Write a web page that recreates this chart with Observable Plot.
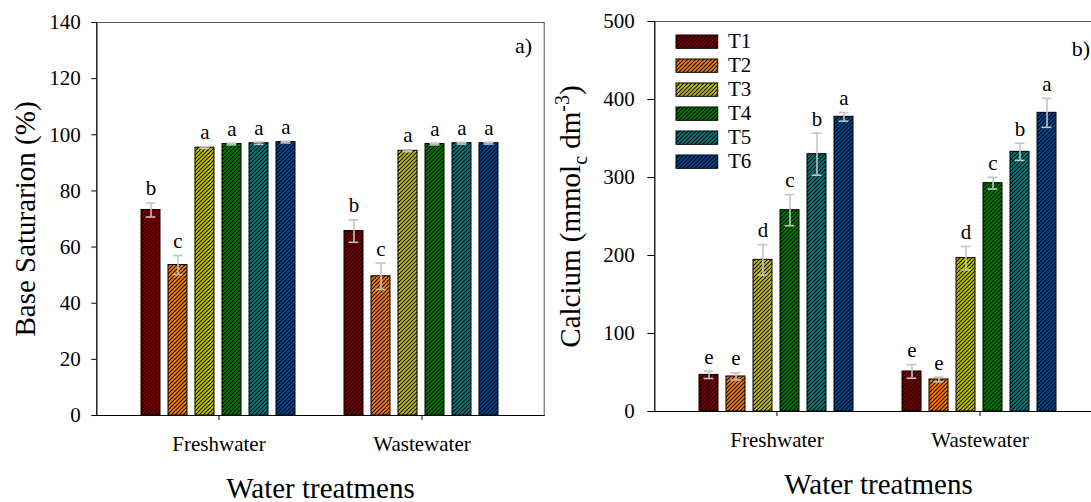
<!DOCTYPE html>
<html><head><meta charset="utf-8">
<script src="https://cdn.jsdelivr.net/npm/d3@7"></script>
<script src="https://cdn.jsdelivr.net/npm/@observablehq/plot@0.6"></script>
<style>
html,body{margin:0;padding:0;background:#fff;overflow:hidden;width:1091px;height:502px}
#wrap{position:relative;width:1091px;height:502px;overflow:hidden}
.panel{position:absolute;top:0;height:502px}
.panel svg{max-width:none !important}
#legend{position:absolute;left:676px;top:30px;overflow:visible}
</style></head><body>
<svg width="0" height="0" style="position:absolute"><defs>
<pattern id="hatch" patternUnits="userSpaceOnUse" width="4" height="4">
<path d="M-1,1 l2,-2 M0,4 l4,-4 M3,5 l2,-2" stroke="#000" stroke-width="1.05"/>
</pattern></defs></svg>
<div id="wrap">
<div id="a" class="panel" style="left:0;width:545px"></div>
<div id="b" class="panel" style="left:545px;width:560px"></div>
<svg id="legend" width="120" height="160"></svg>
</div>
<script>
const groups = ["Freshwater", "Wastewater"];
const treatments = ["T1", "T2", "T3", "T4", "T5", "T6"];
const colors = ["#820000", "#ff8000", "#c8c800", "#008000", "#008080", "#004a99"];

// Panel a) Base saturation (%)
const bsFresh = [73.2, 53.6, 95.4, 96.7, 97.0, 97.4];
const bsFreshErr = [2.5, 3.4, 0.3, 0.3, 0.4, 0.3];
const bsFreshLetters = ["b", "c", "a", "a", "a", "a"];
const bsWaste = [65.7, 49.6, 94.3, 96.7, 97.0, 97.0];
const bsWasteErr = [4.0, 4.7, 0.3, 0.3, 0.3, 0.3];
const bsWasteLetters = ["b", "c", "a", "a", "a", "a"];
const bsTicks = [0, 20, 40, 60, 80, 100, 120, 140];

// Panel b) Calcium (mmolc dm-3)
const caFresh = [47.0, 44.9, 194.4, 258.1, 329.9, 377.8];
const caFreshErr = [4.7, 4.5, 19.6, 19.9, 27.0, 5.6];
const caFreshLetters = ["e", "e", "d", "c", "b", "a"];
const caWaste = [51.3, 41.0, 196.6, 292.7, 332.9, 382.9];
const caWasteErr = [8.7, 3.0, 15.0, 7.5, 11.0, 18.6];
const caWasteLetters = ["e", "e", "d", "c", "b", "a"];
const caTicks = [0, 100, 200, 300, 400, 500];

const xTitle = "Water treatmens";
const caLabel = "Calcium (mmolc dm-3)";

function rows(fv, fe, fl, wv, we, wl) {
  const out = [];
  treatments.forEach((t, i) => out.push({group: groups[0], t, v: fv[i], e: fe[i], l: fl[i]}));
  treatments.forEach((t, i) => out.push({group: groups[1], t, v: wv[i], e: we[i], l: wl[i]}));
  return out;
}

const FONT = "'Liberation Serif', 'Times New Roman', serif";
const ERR = "#c4c4c4";
const FX_PI = 0.158, FX_PO = 0.18;

function panel(o) {
  const data = o.data;
  const plotW = o.width - o.ml - o.mr;
  const fxStep = plotW / (groups.length - FX_PI + 2 * FX_PO);
  const off = fxStep * FX_PO; // outer padding of the facet band: super-facet frame is inset by this
  return Plot.plot({
    width: o.width, height: 502,
    marginLeft: o.ml, marginRight: o.mr, marginTop: o.mt, marginBottom: o.mb,
    style: {fontFamily: FONT, fontSize: "21px", color: "#000", background: "transparent", overflow: "visible", maxWidth: "none"},
    fx: {domain: groups, paddingInner: FX_PI, paddingOuter: FX_PO, label: null},
    x: {domain: treatments, padding: 0.293, axis: null},
    y: {domain: o.yDomain, axis: null},
    color: {domain: treatments, range: colors},
    marks: [
      Plot.barY(data, {fx: "group", x: "t", y: "v", fill: "t"}),
      Plot.barY(data, {fx: "group", x: "t", y: "v", fill: "url(#hatch)", stroke: "#000", strokeWidth: 1}),
      Plot.ruleX(data, {fx: "group", x: "t", y1: d => d.v - d.e, y2: d => d.v + d.e, stroke: ERR, strokeWidth: 1.6}),
      Plot.tickY(data, {fx: "group", x: "t", y: d => d.v + d.e, stroke: ERR, strokeWidth: 1.6, insetLeft: 4.6, insetRight: 4.6}),
      Plot.tickY(data, {fx: "group", x: "t", y: d => d.v - d.e, stroke: ERR, strokeWidth: 1.6, insetLeft: 4.6, insetRight: 4.6}),
      Plot.text(data, {fx: "group", x: "t", y: d => d.v + d.e, text: "l", lineAnchor: "bottom", dy: -7.5, fontSize: 21}),
      Plot.frame({facet: "super", stroke: "#555", insetLeft: -off, insetRight: -off}),
      Plot.frame({facet: "super", anchor: "left", stroke: "#000", insetLeft: -off}),
      Plot.frame({facet: "super", anchor: "bottom", stroke: "#000", insetLeft: -off, insetRight: -off}),
      Plot.axisY({ticks: o.yTicks, tickSize: o.tickSize, tickPadding: o.tickPadding, label: null, dx: -off}),
      Plot.axisFx({anchor: "bottom", tickSize: 5, tickPadding: 16, label: null}),
      Plot.text([o.yLabel], {facet: "super", frameAnchor: "left", rotate: -90, textAnchor: "middle", lineAnchor: "top", dx: o.labelDx - off, fontSize: 29}),
      Plot.text([xTitle], {facet: "super", frameAnchor: "bottom", textAnchor: "middle", lineAnchor: "bottom", dy: 82, fontSize: 29}),
      Plot.text([o.tag], {facet: "super", frameAnchor: "top-right", textAnchor: "end", lineAnchor: "bottom", dx: -12 + off, dy: o.tagDy, fontSize: 22})
    ]
  });
}

const pa = panel({
  data: rows(bsFresh, bsFreshErr, bsFreshLetters, bsWaste, bsWasteErr, bsWasteLetters),
  width: 545, ml: 95, mr: 1, mt: 22, mb: 87,
  yDomain: [0, 140], yTicks: bsTicks, tickSize: 5, tickPadding: 11,
  yLabel: "Base Saturarion (%)", labelDx: -82.6, tag: "a)", tagDy: 30
});
document.getElementById("a").appendChild(pa);

const pb = panel({
  data: rows(caFresh, caFreshErr, caFreshLetters, caWaste, caWasteErr, caWasteLetters),
  width: 560, ml: 108, mr: 3, mt: 21, mb: 91,
  yDomain: [0, 500], yTicks: caTicks, tickSize: 7, tickPadding: 13,
  yLabel: caLabel, labelDx: -95, tag: "b)", tagDy: 34
});
document.getElementById("b").appendChild(pb);

// Rich text for calcium label: subscript c, superscript -3
d3.select(pb).selectAll("text").filter(function () { return this.textContent === caLabel; }).each(function () {
  const lab = d3.select(this);
  lab.text(null);
  lab.append("tspan").text("Calcium (mmol");
  lab.append("tspan").attr("font-size", 20).attr("dy", 7).text("c");
  lab.append("tspan").attr("font-size", 29).attr("dy", -7).text(" dm");
  lab.append("tspan").attr("font-size", 20).attr("dy", -11).text("-3");
  lab.append("tspan").attr("font-size", 29).attr("dy", 11).text(")");
});

// Legend with hatched swatches
const lg = d3.select("#legend");
treatments.forEach((t, i) => {
  const g = lg.append("g").attr("transform", `translate(0,${5 + 24 * i})`);
  g.append("rect").attr("width", 41.7).attr("height", 13.3).attr("fill", colors[i]);
  g.append("rect").attr("width", 41.7).attr("height", 13.3).attr("fill", "url(#hatch)").attr("stroke", "#000").attr("stroke-width", 1);
  g.append("text").attr("x", 52).attr("y", 13.3).attr("font-family", FONT).attr("font-size", 21).attr("fill", "#000").text(t);
});
</script>
</body></html>
